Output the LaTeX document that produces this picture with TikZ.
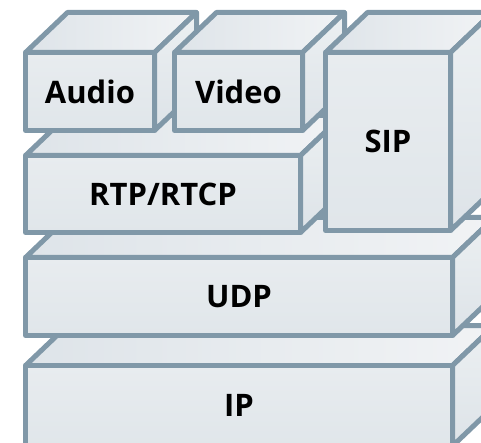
\documentclass[tikz,border=0pt]{standalone}
\usepackage{fontspec}
\setmainfont{Open Sans}
\definecolor{edgegray}{HTML}{8098A8}
\definecolor{facetop}{HTML}{E8ECEF}
\definecolor{facemid}{HTML}{FFFFFF}
\definecolor{facebot}{HTML}{E0E6EA}
\definecolor{topA}{HTML}{DEE4E9}
\definecolor{topB}{HTML}{F1F3F5}
\definecolor{sideA}{HTML}{ECF0F2}
\definecolor{sideB}{HTML}{DDE3E8}
\tikzset{
  outline/.style={draw=edgegray, line width=5pt, line join=round},
  topface/.style={outline, left color=topA, right color=topB},
  sideface/.style={outline, top color=sideA, bottom color=sideB},
  frontface/.style={top color=facetop, middle color=facemid, bottom color=facebot},
  layerlabel/.style={font=\fontsize{31}{36}\selectfont\bfseries, text=black, inner sep=0pt}
}
% depth of the extruded boxes
\def\dx{42}
\def\dy{40}
% #1 name, #2 left, #3 top, #4 right, #5 bottom, #6 label
\newcommand\layerbox[6]{%
  \path[topface] (#2,#3) -- (#4,#3) -- (#4+\dx,#3-\dy) -- (#2+\dx,#3-\dy) -- cycle;
  \path[sideface] (#4,#3) -- (#4+\dx,#3-\dy) -- (#4+\dx,#5-\dy) -- (#4,#5) -- cycle;
  \shade[frontface] (#2,#3) rectangle (#4,#5);
  \draw[outline] (#2,#3) rectangle (#4,#5);
  \node[layerlabel] (#1) at ({(#2+#4)/2},{(#3+#5)/2}) {#6};
}
\begin{document}
\begin{tikzpicture}[x=1pt, y=-1pt]
  \useasboundingbox (0,0) rectangle (481,443);
  \clip (0,0) rectangle (481,443);
  \layerbox{ip}{25.5}{365.5}{452.5}{446}{IP}
  \layerbox{udp}{25.5}{257.5}{452.5}{335.5}{UDP}
  \layerbox{rtp}{25.5}{155.5}{300.5}{232.5}{RTP/RTCP}
  \layerbox{audio}{25.5}{52.5}{154.5}{130.5}{Audio}
  \layerbox{video}{174.5}{52.5}{302.5}{130.5}{Video}
  \layerbox{sip}{325.5}{52.5}{450.5}{230.5}{SIP}
\end{tikzpicture}
\end{document}
